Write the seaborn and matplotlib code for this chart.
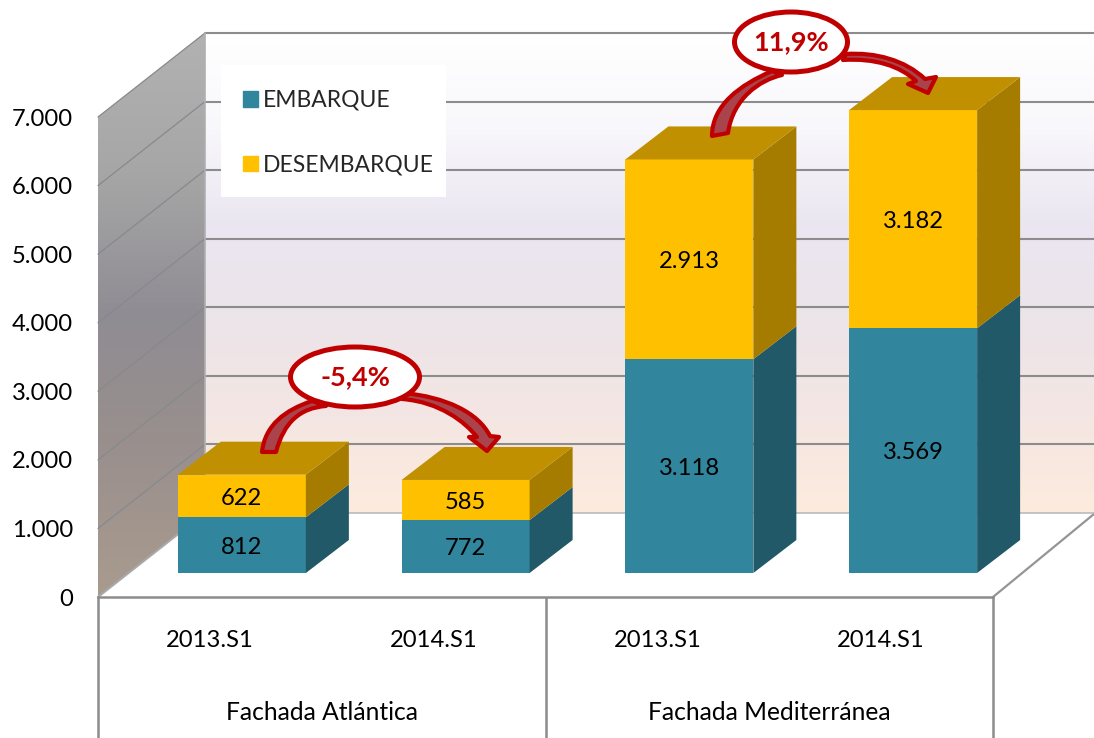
import numpy as np
import pandas as pd
import matplotlib
matplotlib.use("Agg")
import matplotlib.pyplot as plt
import seaborn as sns
from matplotlib.colors import LinearSegmentedColormap
from matplotlib.patches import Ellipse, Patch, PathPatch, Polygon, Rectangle
from matplotlib.path import Path

grupos = ["Fachada Atlántica", "Fachada Mediterránea"]
periodos = ["2013.S1", "2014.S1", "2013.S1", "2014.S1"]
embarque = [812, 772, 3118, 3569]
desembarque = [622, 585, 2913, 3182]
variaciones = ["-5,4%", "11,9%"]
y_ticks = [0, 1000, 2000, 3000, 4000, 5000, 6000, 7000]

W, H = 1094, 738
Y_MAX = 7000
ESCALA = 480 / Y_MAX  # pixeles por unidad
AZUL, AZUL_LADO = "#31859C", "#215968"
AMARILLO, AMARILLO_LADO, AMARILLO_TOP = "#FFC000", "#A67C00", "#C09000"
ROJO = "#C00000"
GRIS = "#8C8C8C"
FS = 17.7
FS_NUM = 17.1

sns.set_theme(style="white")
plt.rcParams["font.family"] = ["Lato", "DejaVu Sans"]


def fmt(v):
    return f"{v:,}".replace(",", ".")


def ax_px(x0, y0, x1, y1, z):
    ax = fig.add_axes([x0 / W, 1 - y1 / H, (x1 - x0) / W, (y1 - y0) / H], zorder=z)
    ax.patch.set_alpha(0)
    return ax


fig = plt.figure(figsize=(W / 100, H / 100), dpi=100, facecolor="white")

# pared lateral
fondo = ax_px(0, 0, W, H, 0)
fondo.set_xlim(0, W)
fondo.set_ylim(H, 0)
fondo.axis("off")
cmap_lado = LinearSegmentedColormap.from_list(
    "lado", ["#B2B2B2", "#A6A6A6", "#8F8C93", "#9A908D", "#A99B8E"])
img = fondo.imshow(np.linspace(0, 1, 256)[:, None], cmap=cmap_lado, aspect="auto",
                   extent=(98, 205, 597, 33))
pared = Polygon([(98, 117), (205, 33), (205, 513), (98, 597)], closed=True,
                facecolor="none", edgecolor="none", transform=fondo.transData)
fondo.add_patch(pared)
img.set_clip_path(pared)
fondo.set_xlim(0, W)
fondo.set_ylim(H, 0)
for v in y_ticks[1:]:
    d = v * ESCALA
    fondo.plot([98, 205], [597 - d, 513 - d], color="#858A8E", lw=0.9)
fondo.plot([98, 205], [597, 513], color="#A8A8A8", lw=1.5)
fondo.plot([993, 1094], [597, 514], color="#959595", lw=1.6)

# pared del fondo
pared_fondo = ax_px(205, 33, W, 513, 1)
cmap_fondo = LinearSegmentedColormap.from_list(
    "fondo", ["#FFFFFF", "#F8F7FB", "#EAE6F1", "#ECE4E9", "#F4E6E3", "#FDEBDD"])
pared_fondo.imshow(np.linspace(0, 1, 256)[:, None], cmap=cmap_fondo, aspect="auto",
                   extent=(0, 1, 0, Y_MAX))
pared_fondo.set_xlim(0, 1)
pared_fondo.set_ylim(0, Y_MAX)
pared_fondo.set_yticks(y_ticks)
pared_fondo.set_xticks([])
pared_fondo.tick_params(length=0, labelleft=False)
pared_fondo.grid(True, axis="y", color=GRIS, lw=1.5)
for linea in pared_fondo.get_ygridlines():
    linea.set_clip_on(False)
pared_fondo.get_ygridlines()[0].set_color("#B5B5B5")
pared_fondo.get_ygridlines()[0].set_linewidth(1.1)
for s in pared_fondo.spines.values():
    s.set_visible(False)
pared_fondo.spines["left"].set_visible(True)
pared_fondo.spines["left"].set_color("#B0B0B0")
pared_fondo.spines["left"].set_linewidth(1.2)

# ejes: valores y categorias en el plano frontal
frente = ax_px(98, 117, 993, 597, 2)
frente.set_xlim(-0.5, 3.5)
frente.set_ylim(0, Y_MAX)
frente.set_yticks(y_ticks, [fmt(v) for v in y_ticks], fontsize=FS_NUM, color="black")
frente.set_xticks(range(4), periodos, fontsize=FS_NUM, color="black")
frente.tick_params(axis="y", length=0, pad=18)
frente.tick_params(axis="x", length=0, pad=23.5)
for nombre, s in frente.spines.items():
    s.set_visible(nombre == "bottom")
frente.spines["bottom"].set_color(GRIS)
frente.spines["bottom"].set_linewidth(1.8)
abajo = -(H - 597) / ESCALA
frente.vlines([-0.5, 1.5, 3.5], abajo, 0, color=GRIS, lw=1.8, clip_on=False)
for i, g in enumerate(grupos):
    frente.text(0.5 + 2 * i, -(713 - 597) / ESCALA, g, ha="center", va="center",
                fontsize=FS, color="black")

# barras: mismo eje desplazado hacia el fondo
barras = ax_px(130, 93, 1025, 573, 3)
df = pd.DataFrame({
    "clave": [f"{i} {p}" for i, p in enumerate(periodos)],
    "embarque": embarque,
    "desembarque": desembarque,
})
sns.barplot(data=df, x="clave", y="embarque", color=AZUL, saturation=1, width=0.572,
            errorbar=None, ax=barras, linewidth=0)
sns.barplot(data=df, x="clave", y="desembarque", bottom=df["embarque"], color=AMARILLO,
            saturation=1, width=0.572, errorbar=None, ax=barras, linewidth=0)
barras.set_xlim(-0.5, 3.5)
barras.set_ylim(0, Y_MAX)
barras.axis("off")

DX = 43 / (895 / 4)
DY = 33 / ESCALA
for cont, lado in zip(barras.containers, [AZUL_LADO, AMARILLO_LADO]):
    for b in cont:
        x1 = b.get_x() + b.get_width()
        y0, y1 = b.get_y(), b.get_y() + b.get_height()
        barras.add_patch(Polygon([(x1, y0), (x1 + DX, y0 + DY), (x1 + DX, y1 + DY), (x1, y1)],
                                 closed=True, facecolor=lado, edgecolor="none", clip_on=False))
for b in barras.containers[1]:
    x0, x1 = b.get_x(), b.get_x() + b.get_width()
    y1 = b.get_y() + b.get_height()
    barras.add_patch(Polygon([(x0, y1), (x1, y1), (x1 + DX, y1 + DY), (x0 + DX, y1 + DY)],
                             closed=True, facecolor=AMARILLO_TOP, edgecolor="none", clip_on=False))
etiquetas = barras.bar_label(barras.containers[0], labels=[fmt(v) for v in embarque],
                             label_type="center", fontsize=FS_NUM, color="black")
etiquetas += barras.bar_label(barras.containers[1], labels=[fmt(v) for v in desembarque],
                              label_type="center", fontsize=FS_NUM, color="black")
for t in etiquetas:
    t.xyann = (0, -1.5)

# caja blanca de la leyenda y leyenda
barras.add_artist(Rectangle((221 / W, 1 - 197 / H), 225 / W, 132 / H, transform=fig.transFigure,
                            facecolor="white", edgecolor="none", zorder=9, clip_on=False))
leyenda = barras.legend(
    handles=[Patch(color=AZUL, label="EMBARQUE"), Patch(color=AMARILLO, label="DESEMBARQUE")],
    loc="upper left", bbox_to_anchor=(243 / W, 1 - 90 / H), bbox_transform=fig.transFigure,
    frameon=False, fontsize=16.5, handlelength=0.66, handleheight=0.66, handletextpad=0.2,
    labelspacing=1.9, borderpad=0, borderaxespad=0)
leyenda.set_zorder(10)

# flechas y porcentajes
capa = ax_px(0, 0, W, H, 4)
capa.set_xlim(0, W)
capa.set_ylim(H, 0)
capa.axis("off")
CUBICA = [Path.CURVE4] * 3
flechas = [
    ([(262, 452), (265, 425), (285, 410), (312, 401), (326, 406), (300, 408), (284, 422), (276, 452), (262, 452)],
     [Path.MOVETO] + CUBICA + [Path.LINETO] + CUBICA + [Path.CLOSEPOLY]),
    ([(404, 393), (445, 397), (478, 412), (490, 436), (499, 437), (487, 451), (469, 437), (477, 437),
      (465, 422), (440, 402), (402, 399), (404, 393)],
     [Path.MOVETO] + CUBICA + [Path.LINETO] * 4 + CUBICA + [Path.CLOSEPOLY]),
    ([(712, 136), (712, 105), (740, 85), (772, 71), (782, 75), (760, 80), (733, 98), (728, 133), (712, 136)],
     [Path.MOVETO] + CUBICA + [Path.LINETO] + CUBICA + [Path.CLOSEPOLY]),
    ([(846, 54), (875, 52), (905, 60), (925, 79), (936, 77), (928, 93), (908, 84), (916, 81),
      (900, 66), (875, 58), (843, 60), (846, 54)],
     [Path.MOVETO] + CUBICA + [Path.LINETO] * 4 + CUBICA + [Path.CLOSEPOLY]),
]
for verts, codes in flechas:
    capa.add_patch(PathPatch(Path(verts, codes), facecolor="#A9444C", edgecolor=ROJO,
                             lw=3.0, joinstyle="round"))
for (cx, cy, ew, eh), txt in zip([(355, 377, 129, 60), (791, 42, 113, 60)], variaciones):
    capa.add_patch(Ellipse((cx, cy), ew, eh, facecolor="white", edgecolor=ROJO, lw=3.6))
    capa.text(cx, cy, txt, ha="center", va="center", fontsize=19.5, fontweight="bold",
              color=ROJO)

fig.savefig("out.png", dpi=100, facecolor="white")
